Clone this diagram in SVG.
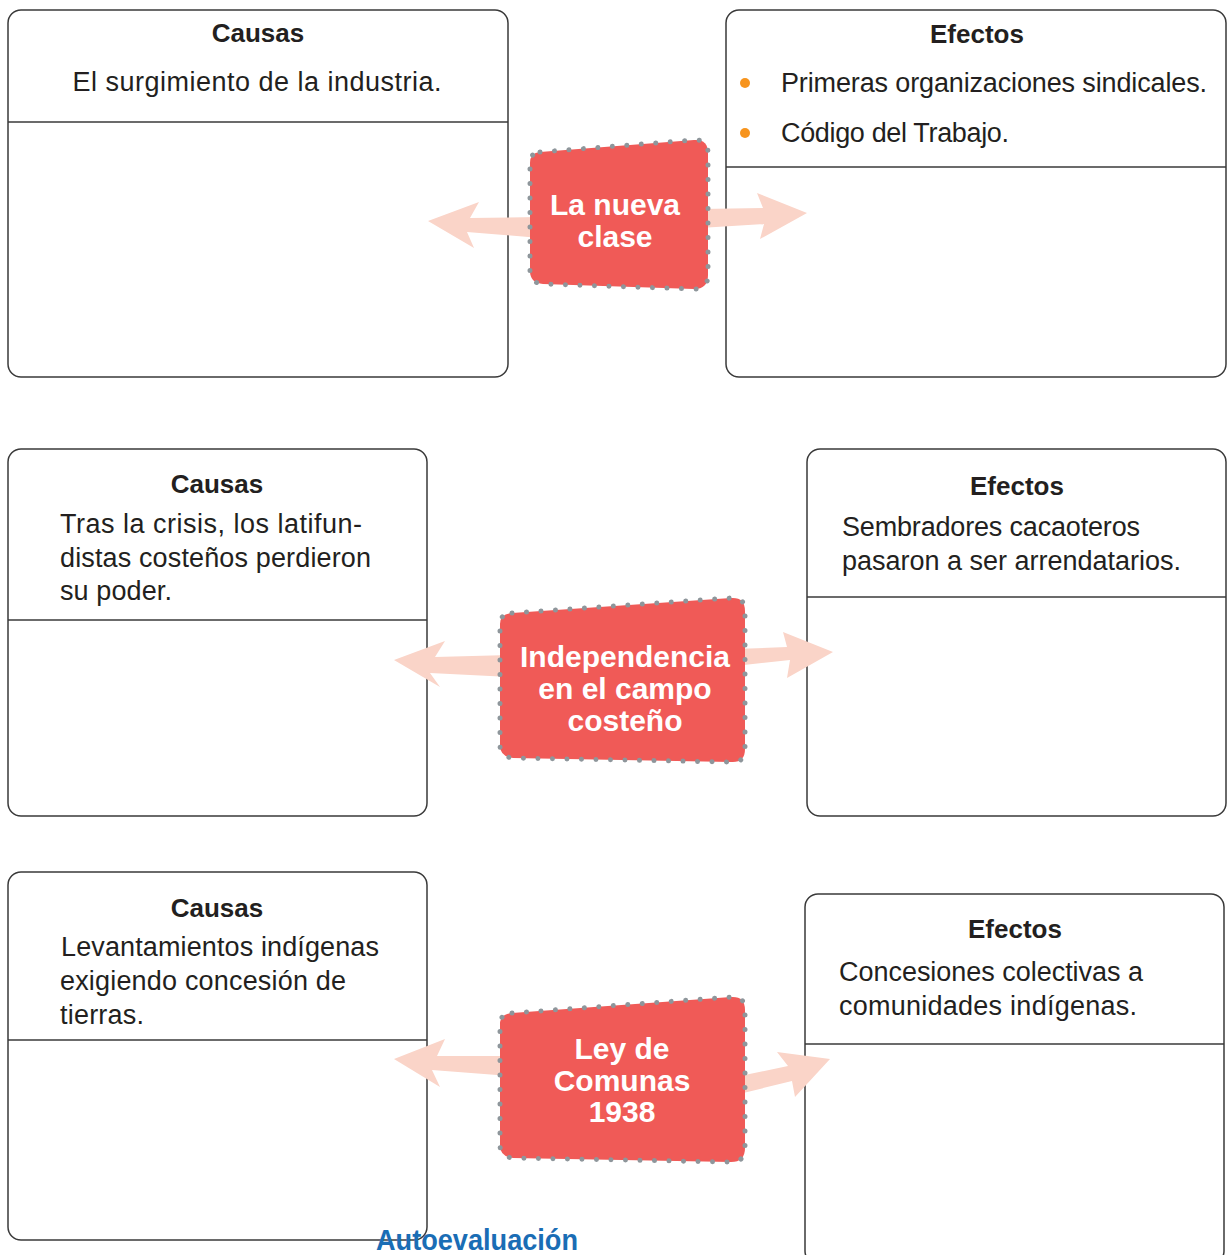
<svg xmlns="http://www.w3.org/2000/svg" width="1229" height="1255" viewBox="0 0 1229 1255">
<defs>
<style>
.box{fill:#fff;stroke:#3a3a3a;stroke-width:1.5}
.div{stroke:#3a3a3a;stroke-width:1.5}
.title{font-family:"Liberation Sans",Arial,sans-serif;font-weight:bold;font-size:26px;fill:#231f20;text-anchor:middle}
.body{font-family:"Liberation Sans",Arial,sans-serif;font-size:27px;fill:#231f20}
.ctr{text-anchor:middle}
.node{fill:#f05a57}
.dots{fill:none;stroke:#8e969b;stroke-width:5;stroke-linecap:round;stroke-dasharray:0.01 14.5}
.ntext{font-family:"Liberation Sans",Arial,sans-serif;font-weight:bold;font-size:30px;fill:#fff;text-anchor:middle}
.arrow{fill:#fad4c8}
.bullet{fill:#f7941d}
.auto{font-family:"Liberation Sans",Arial,sans-serif;font-weight:bold;font-size:30px;fill:#1a6db5}
</style>
</defs>
<rect width="1229" height="1255" fill="#fff"/>

<g id="causas1">
<rect class="box" x="8" y="10" width="500" height="367" rx="13"/>
<line class="div" x1="8" y1="122" x2="508" y2="122"/>
<text class="title" x="258" y="42">Causas</text>
<text class="body ctr" x="257" y="91" textLength="369" lengthAdjust="spacing">El surgimiento de la industria.</text>
</g>

<g id="efectos1">
<rect class="box" x="726" y="10" width="500" height="367" rx="13"/>
<line class="div" x1="726" y1="167" x2="1226" y2="167"/>
<text class="title" x="977" y="43">Efectos</text>
<circle class="bullet" cx="745" cy="83" r="5"/>
<circle class="bullet" cx="745" cy="133" r="5"/>
<text class="body" x="781" y="92" textLength="426" lengthAdjust="spacing">Primeras organizaciones sindicales.</text>
<text class="body" x="781" y="142" textLength="228" lengthAdjust="spacing">Código del Trabajo.</text>
</g>

<g id="causas2">
<rect class="box" x="8" y="449" width="419" height="367" rx="13"/>
<line class="div" x1="8" y1="620" x2="427" y2="620"/>
<text class="title" x="217" y="493">Causas</text>
<text class="body" x="60" y="533" textLength="302" lengthAdjust="spacing">Tras la crisis, los latifun-</text>
<text class="body" x="60" y="567" textLength="311" lengthAdjust="spacing">distas costeños perdieron</text>
<text class="body" x="60" y="600" textLength="112" lengthAdjust="spacing">su poder.</text>
</g>

<g id="efectos2">
<rect class="box" x="807" y="449" width="419" height="367" rx="13"/>
<line class="div" x1="807" y1="597" x2="1226" y2="597"/>
<text class="title" x="1017" y="495">Efectos</text>
<text class="body" x="842" y="536" textLength="298" lengthAdjust="spacing">Sembradores cacaoteros</text>
<text class="body" x="842" y="570" textLength="339" lengthAdjust="spacing">pasaron a ser arrendatarios.</text>
</g>

<g id="causas3">
<rect class="box" x="8" y="872" width="419" height="368" rx="13"/>
<line class="div" x1="8" y1="1040" x2="427" y2="1040"/>
<text class="title" x="217" y="917">Causas</text>
<text class="body" x="61" y="956" textLength="318" lengthAdjust="spacing">Levantamientos indígenas</text>
<text class="body" x="60" y="990" textLength="286" lengthAdjust="spacing">exigiendo concesión de</text>
<text class="body" x="60" y="1024" textLength="84" lengthAdjust="spacing">tierras.</text>
</g>

<g id="efectos3">
<rect class="box" x="805" y="894" width="419" height="370" rx="13"/>
<line class="div" x1="805" y1="1044" x2="1224" y2="1044"/>
<text class="title" x="1015" y="938">Efectos</text>
<text class="body" x="839" y="981" textLength="304" lengthAdjust="spacing">Concesiones colectivas a</text>
<text class="body" x="839" y="1015" textLength="298" lengthAdjust="spacing">comunidades indígenas.</text>
</g>

<g id="connectors">
<polygon class="arrow" points="428,221 479,202 470,218 540,217 540,238 467,232 474,248"/>
<polygon class="arrow" points="700,209 763,208 757,193 807,213 760,239 764,224 700,228"/>
<polygon class="arrow" points="394,660 445,641 435,657 510,655 510,677 430,673 440,687"/>
<polygon class="arrow" points="735,649 787,647 783,632 833,652 787,678 790,660 735,666"/>
<polygon class="arrow" points="394,1059 445,1039 437,1056 510,1056 510,1076 432,1070 440,1087"/>
<polygon class="arrow" points="735,1077 788,1066 777,1052 830,1059 795,1097 792,1081 735,1095"/>
</g>

<g id="nodo1">
<path class="node" d="M 540,152 L 694,140 Q 708,139 708,153 L 708,275 Q 708,289 694,289 L 543,284 Q 530,283 530,271 L 530,163 Q 530,153 540,152 Z"/>
<path class="dots" d="M 540,152 L 694,140 Q 708,139 708,153 L 708,275 Q 708,289 694,289 L 543,284 Q 530,283 530,271 L 530,163 Q 530,153 540,152 Z"/>
<text class="ntext" x="615" y="215">La nueva</text>
<text class="ntext" x="615" y="247">clase</text>
</g>

<g id="nodo2">
<path class="node" d="M 512,613 L 731,598 Q 745,597 745,611 L 745,749 Q 745,763 731,762 L 513,758 Q 500,757 500,745 L 500,624 Q 500,614 512,613 Z"/>
<path class="dots" d="M 512,613 L 731,598 Q 745,597 745,611 L 745,749 Q 745,763 731,762 L 513,758 Q 500,757 500,745 L 500,624 Q 500,614 512,613 Z"/>
<text class="ntext" x="625" y="667">Independencia</text>
<text class="ntext" x="625" y="699">en el campo</text>
<text class="ntext" x="625" y="731">costeño</text>
</g>

<g id="nodo3">
<path class="node" d="M 512,1013 L 731,997 Q 745,996 745,1010 L 745,1148 Q 745,1162 731,1162 L 513,1158 Q 500,1157 500,1145 L 500,1024 Q 500,1014 512,1013 Z"/>
<path class="dots" d="M 512,1013 L 731,997 Q 745,996 745,1010 L 745,1148 Q 745,1162 731,1162 L 513,1158 Q 500,1157 500,1145 L 500,1024 Q 500,1014 512,1013 Z"/>
<text class="ntext" x="622" y="1059">Ley de</text>
<text class="ntext" x="622" y="1091">Comunas</text>
<text class="ntext" x="622" y="1122">1938</text>
</g>

<g id="autoevaluacion">
<text class="auto" x="376" y="1250" textLength="202" lengthAdjust="spacingAndGlyphs">Autoevaluación</text>
</g>
</svg>
